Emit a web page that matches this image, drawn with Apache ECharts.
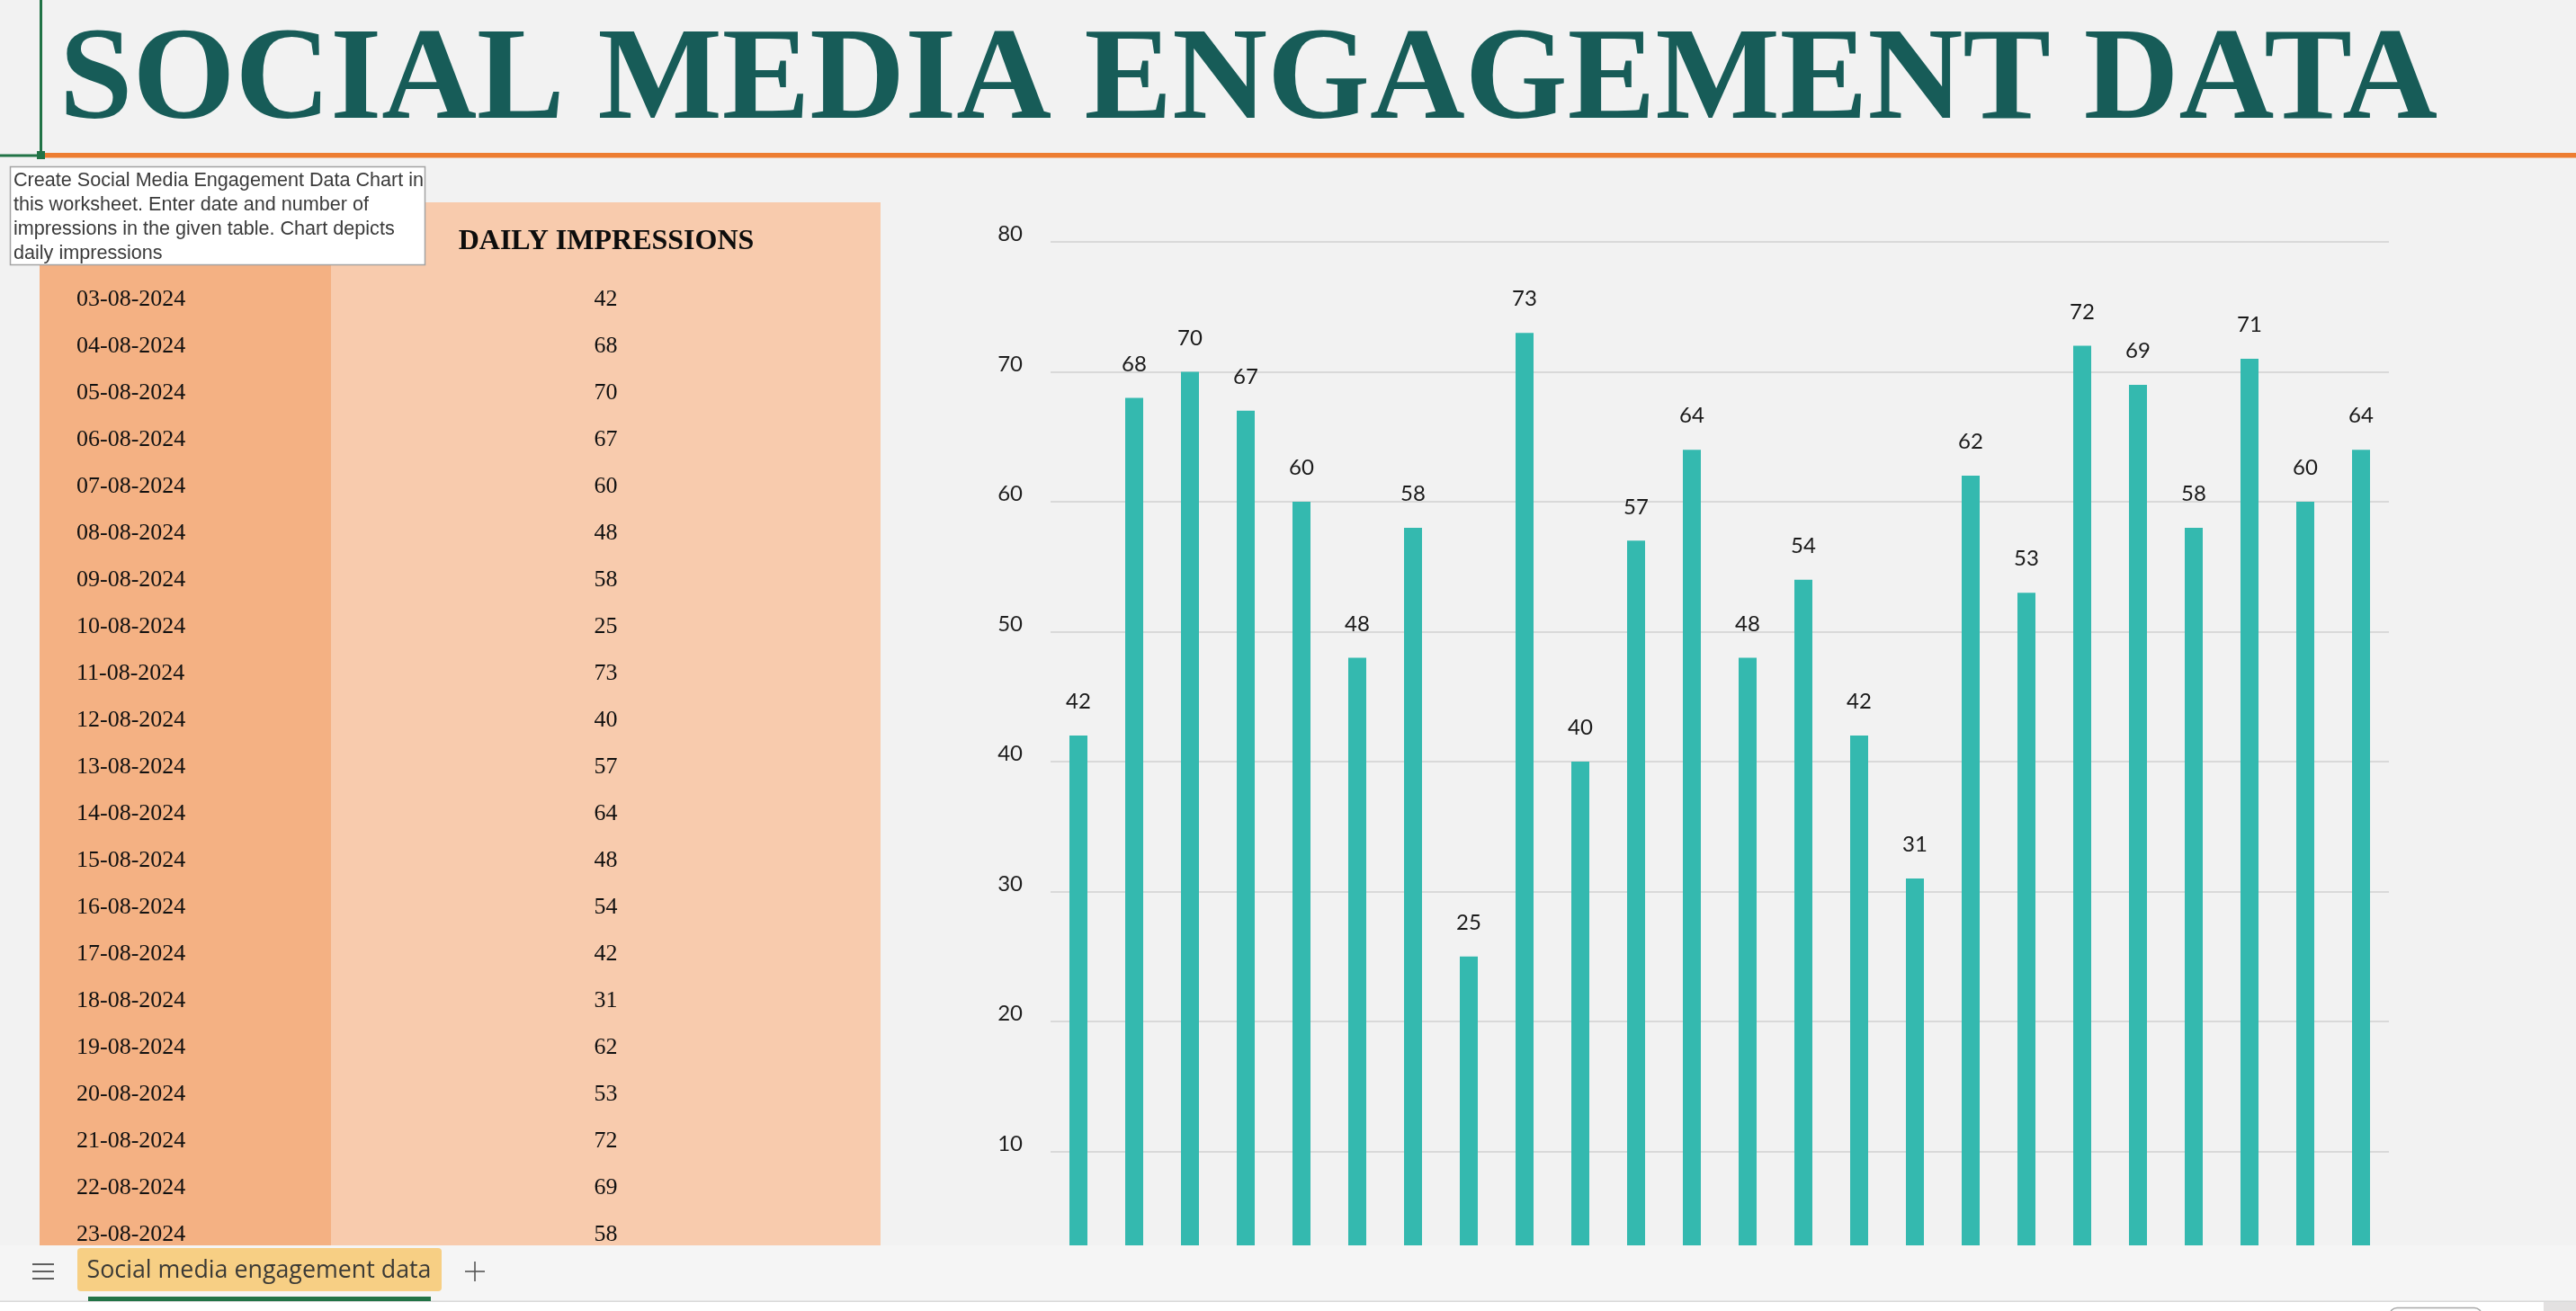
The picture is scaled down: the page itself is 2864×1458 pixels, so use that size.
<!DOCTYPE html>
<html>
<head>
<meta charset="utf-8">
<title>Social Media Engagement Data</title>
<script src="https://cdn.jsdelivr.net/npm/echarts@6/dist/echarts.min.js"></script>
<style>
  html, body { margin: 0; padding: 0; background: #f2f2f2; overflow: hidden; }
  #chart { width: 2864px; height: 1458px; }
</style>
</head>
<body>
<div id="chart"></div>
<script>
// sheet data: one row per day
var dates = [
  '03-08-2024', '04-08-2024', '05-08-2024', '06-08-2024', '07-08-2024', '08-08-2024',
  '09-08-2024', '10-08-2024', '11-08-2024', '12-08-2024', '13-08-2024', '14-08-2024',
  '15-08-2024', '16-08-2024', '17-08-2024', '18-08-2024', '19-08-2024', '20-08-2024',
  '21-08-2024', '22-08-2024', '23-08-2024', '24-08-2024', '25-08-2024', '26-08-2024'
];
var impressions = [42, 68, 70, 67, 60, 48, 58, 25, 73, 40, 57, 64, 48, 54, 42, 31, 62, 53, 72, 69, 58, 71, 60, 64];

var yMin = 0;
var yMax = 80;
var yStep = 10;

var titleText = 'SOCIAL MEDIA ENGAGEMENT DATA';
var headerText = 'DAILY IMPRESSIONS';
var noteText = 'Create Social Media Engagement Data Chart in\nthis worksheet. Enter date and number of\nimpressions in the given table. Chart depicts\ndaily impressions';
var sheetName = 'Social media engagement data';

var SERIF = '"Liberation Serif", "Times New Roman", serif';
var LABEL_FONT = 'Lato, "Noto Sans", sans-serif';
var dateColWidth = 324;
var rowHeight = 52;

var chart = echarts.init(document.getElementById('chart'));

function renderTableRow(params, api) {
  var cs = params.coordSys;
  var cy = api.coord([0, api.value(1)])[1];
  var h = api.size([0, 1])[1];
  var valueX = cs.x + dateColWidth + (cs.width - dateColWidth) / 2;
  return {
    type: 'group',
    children: [
      { type: 'rect', shape: { x: cs.x, y: cy - h / 2, width: dateColWidth, height: h + 1 }, style: { fill: '#F4B183' } },
      { type: 'rect', shape: { x: cs.x + dateColWidth, y: cy - h / 2, width: cs.width - dateColWidth, height: h + 1 }, style: { fill: '#F8CBAD' } },
      {
        type: 'text',
        style: { text: dates[params.dataIndex], x: cs.x + 41, y: cy + 2, verticalAlign: 'middle',
          fontFamily: SERIF, fontSize: 26, fill: '#111' }
      },
      {
        type: 'text',
        style: { text: String(api.value(2)), x: valueX, y: cy + 2, align: 'center', verticalAlign: 'middle',
          fontFamily: SERIF, fontSize: 26, fill: '#111' }
      }
    ]
  };
}

var option = {
  backgroundColor: '#f2f2f2',
  animation: false,
  grid: [
    { left: 1168, top: 269, width: 1488, height: 1156, outerBoundsMode: 'none' },
    { left: 44, top: 305.5, width: 935, height: rowHeight * dates.length, outerBoundsMode: 'none' }
  ],
  xAxis: [
    {
      type: 'category',
      gridIndex: 0,
      data: dates,
      axisLine: { show: false },
      axisTick: { show: false },
      axisLabel: { show: false }
    },
    { type: 'value', gridIndex: 1, min: 0, max: 1, show: false }
  ],
  yAxis: [
    {
      type: 'value',
      gridIndex: 0,
      min: yMin,
      max: yMax,
      interval: yStep,
      axisLine: { show: false },
      axisTick: { show: false },
      splitLine: { lineStyle: { color: '#d9d9d9', width: 2 } },
      axisLabel: {
        margin: 31,
        fontFamily: LABEL_FONT,
        fontSize: 24,
        lineHeight: 17,
        verticalAlign: 'bottom',
        color: '#1f1f1f'
      }
    },
    { type: 'category', gridIndex: 1, data: dates, inverse: true, show: false }
  ],
  series: [
    {
      type: 'bar',
      xAxisIndex: 0,
      yAxisIndex: 0,
      data: impressions,
      barWidth: 20,
      z: 2,
      itemStyle: { color: '#34B9AF' },
      label: {
        show: true,
        position: 'top',
        distance: 25.5,
        fontFamily: LABEL_FONT,
        fontSize: 24,
        lineHeight: 24,
        color: '#1a1a1a'
      }
    },
    {
      type: 'custom',
      xAxisIndex: 1,
      yAxisIndex: 1,
      silent: true,
      z: 1,
      data: dates.map(function (d, i) { return [0, i, impressions[i]]; }),
      renderItem: renderTableRow
    }
  ],
  graphic: {
    elements: [
      // cell cursor + orange rule under the title
      { type: 'rect', z: 50, shape: { x: 44, y: 0, width: 3, height: 170 }, style: { fill: '#217346' } },
      { type: 'rect', z: 50, shape: { x: 0, y: 171.5, width: 42, height: 3 }, style: { fill: '#217346' } },
      { type: 'rect', z: 51, shape: { x: 41, y: 168, width: 9, height: 9 }, style: { fill: '#217346' } },
      { type: 'rect', z: 50, shape: { x: 50, y: 170, width: 2814, height: 5.5 }, style: { fill: '#ED7D31' } },
      {
        type: 'text', z: 50,
        style: { text: titleText, x: 66, y: 93, verticalAlign: 'middle',
          fontFamily: SERIF, fontWeight: 'bold', fontSize: 146.5, fill: '#175C58' }
      },
      // table header row
      { type: 'rect', z: 50, shape: { x: 44, y: 225, width: dateColWidth, height: 81 }, style: { fill: '#F4B183' } },
      { type: 'rect', z: 50, shape: { x: 44 + dateColWidth, y: 225, width: 935 - dateColWidth, height: 81 }, style: { fill: '#F8CBAD' } },
      {
        type: 'text', z: 51,
        style: { text: headerText, x: 674, y: 269, align: 'center', verticalAlign: 'middle',
          fontFamily: SERIF, fontWeight: 'bold', fontSize: 32, fill: '#0d0d0d' }
      },
      // note box
      {
        type: 'rect', z: 60,
        shape: { x: 11.5, y: 185.5, width: 461, height: 109 },
        style: { fill: '#ffffff', stroke: '#a3a3a3', lineWidth: 1.5 }
      },
      {
        type: 'text', z: 61,
        style: { text: noteText, x: 15, y: 188, verticalAlign: 'top', lineHeight: 27,
          fontFamily: '"Liberation Sans", Arial, sans-serif', fontSize: 21.6, fill: '#3a3a3a' }
      },
      // sheet tab bar
      { type: 'rect', z: 100, shape: { x: 0, y: 1385, width: 2864, height: 64 }, style: { fill: '#f5f5f5' } },
      { type: 'rect', z: 100, shape: { x: 0, y: 1447, width: 2864, height: 11 }, style: { fill: '#ffffff' } },
      { type: 'rect', z: 101, shape: { x: 0, y: 1446.5, width: 2864, height: 1.5 }, style: { fill: '#d9d9d9' } },
      { type: 'rect', z: 101, shape: { x: 2828, y: 1448, width: 36, height: 10 }, style: { fill: '#e3e1e1' } },
      {
        type: 'rect', z: 101,
        shape: { x: 2657, y: 1454.5, width: 102, height: 20, r: 8 },
        style: { fill: '#ffffff', stroke: '#a8a8a8', lineWidth: 1.5 }
      },
      { type: 'line', z: 101, shape: { x1: 36, y1: 1406, x2: 60, y2: 1406 }, style: { stroke: '#3a3a3a', lineWidth: 1.6 } },
      { type: 'line', z: 101, shape: { x1: 36, y1: 1414, x2: 60, y2: 1414 }, style: { stroke: '#3a3a3a', lineWidth: 1.6 } },
      { type: 'line', z: 101, shape: { x1: 36, y1: 1422, x2: 60, y2: 1422 }, style: { stroke: '#3a3a3a', lineWidth: 1.6 } },
      {
        type: 'rect', z: 101,
        shape: { x: 86, y: 1388, width: 405, height: 48, r: 4 },
        style: { fill: '#F7CF84' }
      },
      {
        type: 'text', z: 102,
        style: { text: sheetName, x: 288, y: 1413, align: 'center', verticalAlign: 'middle',
          fontFamily: '"Open Sans", "Noto Sans", sans-serif', fontSize: 26.8, fill: '#3b3a36' }
      },
      { type: 'rect', z: 101, shape: { x: 98, y: 1442, width: 381, height: 5 }, style: { fill: '#217346' } },
      { type: 'line', z: 101, shape: { x1: 517, y1: 1414, x2: 539, y2: 1414 }, style: { stroke: '#555', lineWidth: 1.6 } },
      { type: 'line', z: 101, shape: { x1: 528, y1: 1403, x2: 528, y2: 1425 }, style: { stroke: '#555', lineWidth: 1.6 } }
    ]
  }
};

chart.setOption(option);
</script>
</body>
</html>
